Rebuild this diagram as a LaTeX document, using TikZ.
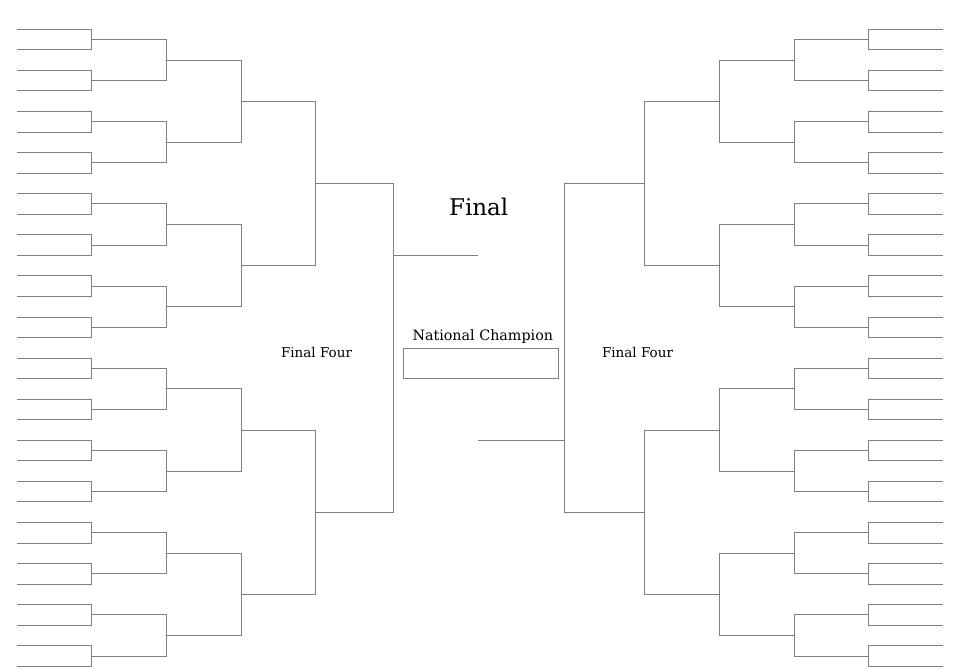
\documentclass[tikz,border=0pt]{standalone}
\usepackage{fontspec}
\setmainfont{DejaVu Serif}
\newcommand\bracketside[2]{%
  \foreach \r in {0,...,4} {
    \pgfmathtruncatemacro\np{16/2^\r - 1}
    \pgfmathsetmacro\xa{{#2}[\r]}
    \pgfmathsetmacro\xb{{#2}[\r+1]}
    \foreach \k in {0,...,\np} {
      \pgfmathsetmacro\ya{29.3 + (2^\r*(2*\k) + (2^\r-1)/2)*20.55}
      \pgfmathsetmacro\yb{\ya + 2^\r*20.55}
      \coordinate (#1-\r-\k-a0) at (\xa,\ya);
      \coordinate (#1-\r-\k-a1) at (\xb,\ya);
      \coordinate (#1-\r-\k-b1) at (\xb,\yb);
      \coordinate (#1-\r-\k-b0) at (\xa,\yb);
      \draw[bline] (#1-\r-\k-a0) -- (#1-\r-\k-a1) -- (#1-\r-\k-b1) -- (#1-\r-\k-b0);
    }
  }%
}
\begin{document}
\begin{tikzpicture}[x=1pt,y=-1pt,
  bline/.style={draw=gray,line width=1pt},
  lbl/.style={font=\fontsize{13.5}{15}\selectfont,anchor=base,inner sep=0pt},
  ttl/.style={font=\fontsize{23}{25}\selectfont,anchor=base,inner sep=0pt}]
\useasboundingbox (0,0) rectangle (960,670);
\bracketside{L}{17,91.3,166.3,241.3,315.3,393.3}
\bracketside{R}{943,868.3,794.3,719.3,644.3,564.3}
\coordinate (lf0) at (393.3,255);
\coordinate (lf1) at (478,255);
\coordinate (rf0) at (478,440.3);
\coordinate (rf1) at (564.3,440.3);
\draw[bline] (lf0) -- (lf1);
\draw[bline] (rf0) -- (rf1);
\node[draw=gray,line width=1pt,minimum width=155.4pt,minimum height=30pt,inner sep=0pt] (champ) at (481,363.3) {};
\node[ttl] (final) at (478.7,215) {Final};
\node[lbl,font=\fontsize{14.3}{16}\selectfont] (natl) at (482.8,340.7) {National Champion};
\node[lbl] (ffl) at (316.5,357.3) {Final Four};
\node[lbl] (ffr) at (637.5,357.6) {Final Four};
\end{tikzpicture}
\end{document}
